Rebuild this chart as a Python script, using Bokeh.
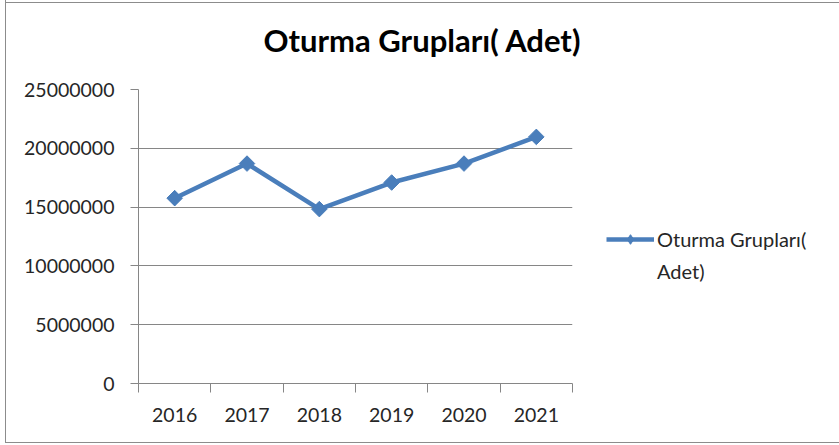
import math
from bokeh.plotting import figure
from bokeh.models import FixedTicker, Legend, LegendItem, ColumnDataSource, NumeralTickFormatter
from bokeh.embed import file_html
from bokeh.resources import INLINE

years = ["2016", "2017", "2018", "2019", "2020", "2021"]
values = [15760000, 18700000, 14830000, 17090000, 18700000, 20970000]
y_ticks = [0, 5000000, 10000000, 15000000, 20000000, 25000000]
title_text = "Oturma Grupları( Adet)"
legend_lines = ["Oturma Grupları(", "Adet)"]

xs = [i + 0.5 for i in range(len(years))]
src = ColumnDataSource(dict(x=xs, y=values))

FONT = "Lato"
GRAY = "#868686"
BLUE = "#4A7EBB"
TXT = "#262626"

p = figure(frame_width=434, frame_height=294, output_backend="svg", toolbar_location=None,
           x_range=(0, len(years)), y_range=(0, 25000000),
           min_border_left=132, min_border_right=268, min_border_bottom=59, min_border_top=99)
p.border_fill_color = None
p.styles = {"border-left": "1px solid #8c8c8c", "border-bottom": "1px solid #8c8c8c",
            "box-sizing": "border-box", "margin-left": "5px", "margin-top": "-10px",
            "background": "#ffffff linear-gradient(#8c8c8c, #8c8c8c) no-repeat 0 12px / 100% 1px"}

p.title.text = title_text
p.title.align = "left"
p.title.offset = 125
p.title.text_font = FONT
p.title.text_font_size = "31px"
p.title.text_font_style = "bold"
p.title.text_color = "#000000"
p.title.vertical_align = "top"
p.title.standoff = 58

p.outline_line_color = None
p.xgrid.grid_line_color = None
p.ygrid.grid_line_color = GRAY
p.ygrid.grid_line_width = 1

p.yaxis.ticker = FixedTicker(ticks=y_ticks)
p.yaxis.formatter = NumeralTickFormatter(format="0")
p.yaxis.axis_line_color = GRAY
p.yaxis.major_tick_line_color = GRAY
p.yaxis.major_tick_out = 8
p.yaxis.major_tick_in = 0
p.yaxis.minor_tick_line_color = None
p.yaxis.major_label_text_font = FONT
p.yaxis.major_label_text_font_size = "19.5px"
p.yaxis.major_label_text_color = TXT
p.yaxis.major_label_standoff = 16

p.xaxis.ticker = FixedTicker(ticks=xs, minor_ticks=list(range(len(years) + 1)))
p.xaxis.major_label_overrides = {x: y for x, y in zip(xs, years)}
p.xaxis.axis_line_color = GRAY
p.xaxis.major_tick_line_color = None
p.xaxis.major_tick_out = 0
p.xaxis.major_tick_in = 0
p.xaxis.minor_tick_line_color = GRAY
p.xaxis.minor_tick_out = 9
p.xaxis.minor_tick_in = 0
p.xaxis.major_label_text_font = FONT
p.xaxis.major_label_text_font_size = "19.5px"
p.xaxis.major_label_text_color = TXT
p.xaxis.major_label_standoff = 15

ln = p.line("x", "y", source=src, line_color=BLUE, line_width=4.5)
mk = p.scatter("x", "y", source=src, marker="square", angle=math.pi / 4, size=11,
               fill_color=BLUE, line_color=BLUE)

# legend marker: a diamond that sits hidden inside the first data marker
leg_src = ColumnDataSource(dict(x=xs[:1], y=values[:1]))
leg_mk = p.scatter("x", "y", source=leg_src, marker="diamond", size=15,
                   fill_color=BLUE, line_color=BLUE)
blank = p.line(x=[], y=[], line_alpha=0)

legend = Legend(items=[LegendItem(label=" ", renderers=[blank]),
                       LegendItem(label=legend_lines[0], renderers=[ln, leg_mk]),
                       LegendItem(label=legend_lines[1], renderers=[blank])],
                location=(34, 100), border_line_color=None, background_fill_alpha=0,
                label_text_font=FONT, label_text_font_size="20px", label_text_color=TXT,
                glyph_width=48, glyph_height=24, label_height=24, label_standoff=3,
                spacing=8, padding=4, margin=0)
p.add_layout(legend, "right")

open("out.html", "w").write(file_html(p, INLINE))
